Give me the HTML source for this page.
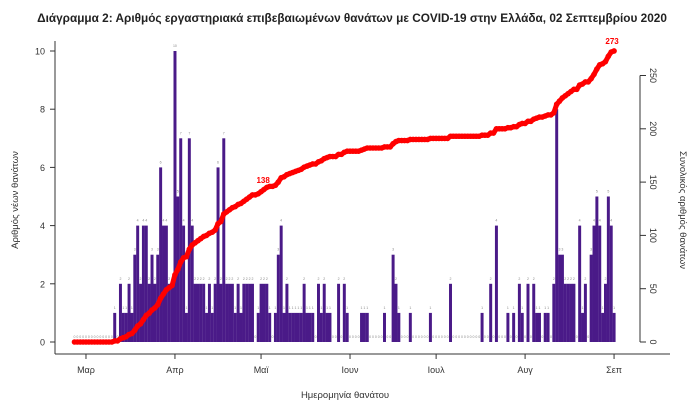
<!DOCTYPE html>
<html><head><meta charset="utf-8"><style>
body{margin:0;background:#fff}
svg{display:block;font-family:"Liberation Sans","DejaVu Sans",sans-serif}
</style></head><body>
<svg id="chart" width="700" height="409" viewBox="0 0 700 409" xmlns="http://www.w3.org/2000/svg">
<text x="352" y="22" text-anchor="middle" font-size="11.8" font-weight="bold" fill="#222">Διάγραμμα 2: Αριθμός εργαστηριακά επιβεβαιωμένων θανάτων με COVID-19 στην Ελλάδα, 02 Σεπτεμβρίου 2020</text>
<text transform="translate(18,200) rotate(-90)" text-anchor="middle" font-size="9.5" fill="#333">Αριθμός νέων θανάτων</text>
<text transform="translate(680,210) rotate(90)" text-anchor="middle" font-size="9.5" fill="#333">Συνολικός αριθμός θανάτων</text>
<text x="345" y="398" text-anchor="middle" font-size="9.5" fill="#333">Ημερομηνία θανάτου</text>
<g id="bars"></g>
<g id="vals"></g>
<g id="cum"></g>
<g id="axes"></g>
</svg>
<script>
const daily = [0,0,0,0,0,0,0,0,0,0,0,0,0,0,
1,0,2,1,1,2,1,3,4,2,4,4,2,3,2,3,6,4,4,2,2,10,5,7,4,1,7,4,2,2,2,2,1,2,1,2,6,2,7,2,2,2,1,
2,1,2,2,2,2,0,1,2,2,2,1,0,1,3,4,1,2,1,1,1,1,1,2,1,1,1,0,2,1,2,1,1,
0,0,2,0,2,1,0,0,0,0,1,1,1,0,0,0,0,0,1,0,0,3,2,1,0,0,0,1,0,0,0,0,0,0,1,0,0,0,0,0,0,2,0,0,0,0,0,0,0,0,0,0,1,0,0,2,0,4,0,0,0,1,0,1,0,2,1,0,2,0,2,1,1,0,1,1,0,2,8,3,3,2,2,2,2,0,4,1,2,0,3,4,5,4,1,2,5,4,1];
const monthLabels = ["Μαρ","Απρ","Μαϊ","Ιουν","Ιουλ","Αυγ","Σεπ"];
const monthDayIndex = [4,35,65,96,126,157,188];
const leftTicks = [0,2,4,6,8,10];
const rightTicks = [0,50,100,150,200,250];
const cumLabelTargets = [137,273];

const NS="http://www.w3.org/2000/svg";
const x0=74.5, dx=2.87;
const xs=d=>x0+d*dx;
const yL=v=>342-v*29.1;
const yR=v=>342-v*1.066;
function mk(tag,attrs,parent){const e=document.createElementNS(NS,tag);for(const k in attrs)e.setAttribute(k,attrs[k]);parent.appendChild(e);return e;}
const bars=document.getElementById('bars'),vals=document.getElementById('vals'),cumG=document.getElementById('cum'),axes=document.getElementById('axes');
daily.forEach((v,i)=>{
  if(v>0){const r=mk('rect',{x:xs(i)-1.45,y:yL(v),width:dx+0.1,height:yL(0)-yL(v),fill:'#4a1a88'},bars);
  
  }
  const t=mk('text',{x:xs(i),y:yL(v)-4,'text-anchor':'middle','font-size':'3.5',fill:'#888'},vals);
  t.textContent=v;
  
  
});
let c=0;const cum=daily.map(v=>c+=v);
const pts=cum.map((v,i)=>xs(i).toFixed(1)+','+yR(v).toFixed(1)).join(' ');
const pl=mk('polyline',{points:pts,fill:'none',stroke:'#f00','stroke-width':5,'stroke-linejoin':'round','stroke-linecap':'round'},cumG);


cum.forEach((v,i)=>{const p=mk('circle',{cx:xs(i),cy:yR(v),r:2.8,fill:'#f00'},cumG);

});
cumLabelTargets.forEach(tv=>{
  let idx=cum.findIndex(v=>v>=tv); if(idx<0) idx=cum.length-1;
  const last=idx===cum.length-1;
  const t=mk('text',{x:xs(idx)+(last?-2:4),y:yR(cum[idx])-(last?7:12),'text-anchor':last?'middle':'start','font-size':'8','font-weight':'bold',fill:'#f00'},cumG);
  t.textContent=cum[idx];
  
  
});
mk('line',{x1:55,y1:41,x2:55,y2:354,stroke:'#333','stroke-width':1},axes);
mk('line',{x1:55,y1:354,x2:670,y2:354,stroke:'#333','stroke-width':1},axes);
mk('line',{x1:640,y1:yR(0),x2:640,y2:yR(250),stroke:'#333','stroke-width':1},axes);
leftTicks.forEach(v=>{mk('line',{x1:50,y1:yL(v),x2:55,y2:yL(v),stroke:'#333'},axes);
 const t=mk('text',{x:45,y:yL(v)+3.5,'text-anchor':'end','font-size':'9',fill:'#333'},axes);t.textContent=v;
 
 });
rightTicks.forEach(v=>{mk('line',{x1:640,y1:yR(v),x2:646,y2:yR(v),stroke:'#333'},axes);
 const t=mk('text',{transform:`translate(650,${yR(v)}) rotate(90)`,'text-anchor':'middle','font-size':'9',fill:'#333'},axes);t.textContent=v;
 
 });
monthLabels.forEach((m,i)=>{const x=xs(monthDayIndex[i]);
 mk('line',{x1:x,y1:354,x2:x,y2:359,stroke:'#333'},axes);
 const t=mk('text',{x:x,y:373,'text-anchor':'middle','font-size':'9',fill:'#333'},axes);t.textContent=m;
 
 });
</script>
</body></html>
